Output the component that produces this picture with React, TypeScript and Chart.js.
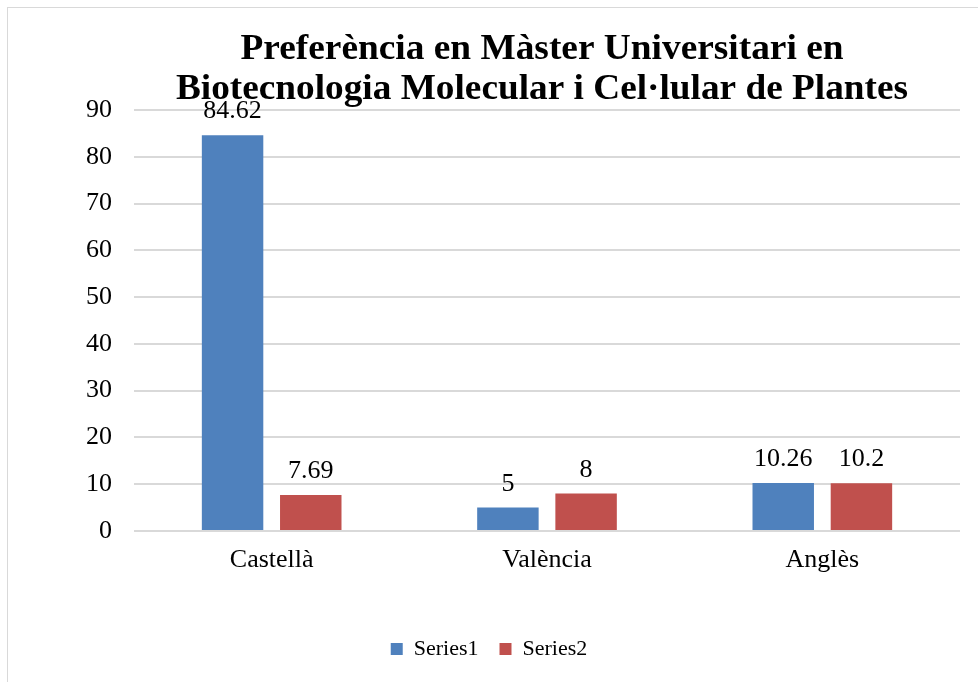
import React, { useEffect, useRef } from "react";
import { Chart, registerables } from "chart.js";

Chart.register(...registerables);

const categories = ["Castellà", "València", "Anglès"];
const series1 = [84.62, 5, 10.26];
const series2 = [7.69, 8, 10.2];
const seriesNames = ["Series1", "Series2"];
const titleLines = ["Preferència en Màster Universitari en", "Biotecnologia Molecular i Cel·lular de Plantes"];
const yMin = 0;
const yMax = 90;
const yStep = 10;

const FONT = "'Liberation Serif', 'Times New Roman', serif";

const titlePlugin = {
  id: "customTitle",
  afterDraw(chart: any) {
    const ctx = chart.ctx;
    ctx.save();
    ctx.fillStyle = "#000";
    ctx.font = `bold 35px ${FONT}`;
    ctx.textBaseline = "alphabetic";
    const targets = [603, 732];
    const baselines = [51, 91];
    const cx = 534;
    titleLines.forEach((line, i) => {
      const w = ctx.measureText(line).width;
      const s = targets[i] / w;
      ctx.save();
      ctx.translate(cx, baselines[i]);
      ctx.scale(s, 1);
      ctx.textAlign = "center";
      ctx.fillText(line, 0, 0);
      ctx.restore();
    });
    ctx.restore();
  },
};

const labelPlugin = {
  id: "dataLabels",
  afterDatasetsDraw(chart: any) {
    const ctx = chart.ctx;
    ctx.save();
    ctx.fillStyle = "#000";
    ctx.font = `26px ${FONT}`;
    ctx.textAlign = "center";
    ctx.textBaseline = "alphabetic";
    chart.data.datasets.forEach((ds: any, di: number) => {
      const meta = chart.getDatasetMeta(di);
      meta.data.forEach((bar: any, i: number) => {
        ctx.fillText(String(ds.data[i]), bar.x, bar.y - 17);
      });
    });
    ctx.restore();
  },
};

export default function App() {
  const ref = useRef<HTMLCanvasElement | null>(null);
  useEffect(() => {
    if (!ref.current) return;
    const chart = new Chart(ref.current, {
      type: "bar",
      data: {
        labels: categories,
        datasets: [
          { label: seriesNames[0], data: series1, backgroundColor: "#4F81BD", categoryPercentage: 0.568, barPercentage: 0.786 },
          { label: seriesNames[1], data: series2, backgroundColor: "#C0504D", categoryPercentage: 0.568, barPercentage: 0.786 },
        ],
      },
      options: {
        responsive: false,
        animation: false,
        layout: { padding: { top: 102, right: 18, bottom: 12, left: 10 } },
        plugins: {
          title: { display: false },
          tooltip: { enabled: false },
          legend: {
            position: "bottom",
            labels: {
              font: { family: FONT, size: 22 },
              color: "#000",
              boxWidth: 12,
              boxHeight: 12,
              padding: 21,
            },
          },
        },
        scales: {
          x: {
            grid: { display: false },
            border: { display: false },
            ticks: { font: { family: FONT, size: 26 }, color: "#000", padding: 6 },
            afterFit(scale: any) {
              scale.height = 86;
            },
          },
          y: {
            min: yMin,
            max: yMax,
            ticks: { stepSize: yStep, font: { family: FONT, size: 26 }, color: "#000", padding: 22 },
            grid: { color: "#d9d9d9", lineWidth: 2, drawTicks: false },
            border: { display: false },
            afterFit(scale: any) {
              scale.width = 116;
            },
          },
        },
      },
      plugins: [titlePlugin, labelPlugin],
    });
    return () => chart.destroy();
  }, []);
  return (
    <div
      style={{
        position: "absolute",
        left: 7,
        top: 7,
        width: 971,
        height: 675,
        borderLeft: "1px solid #d9d9d9",
        borderTop: "1px solid #d9d9d9",
        background: "#fff",
      }}
    >
      <canvas ref={ref} width={970} height={674} style={{ display: "block" }} />
    </div>
  );
}
